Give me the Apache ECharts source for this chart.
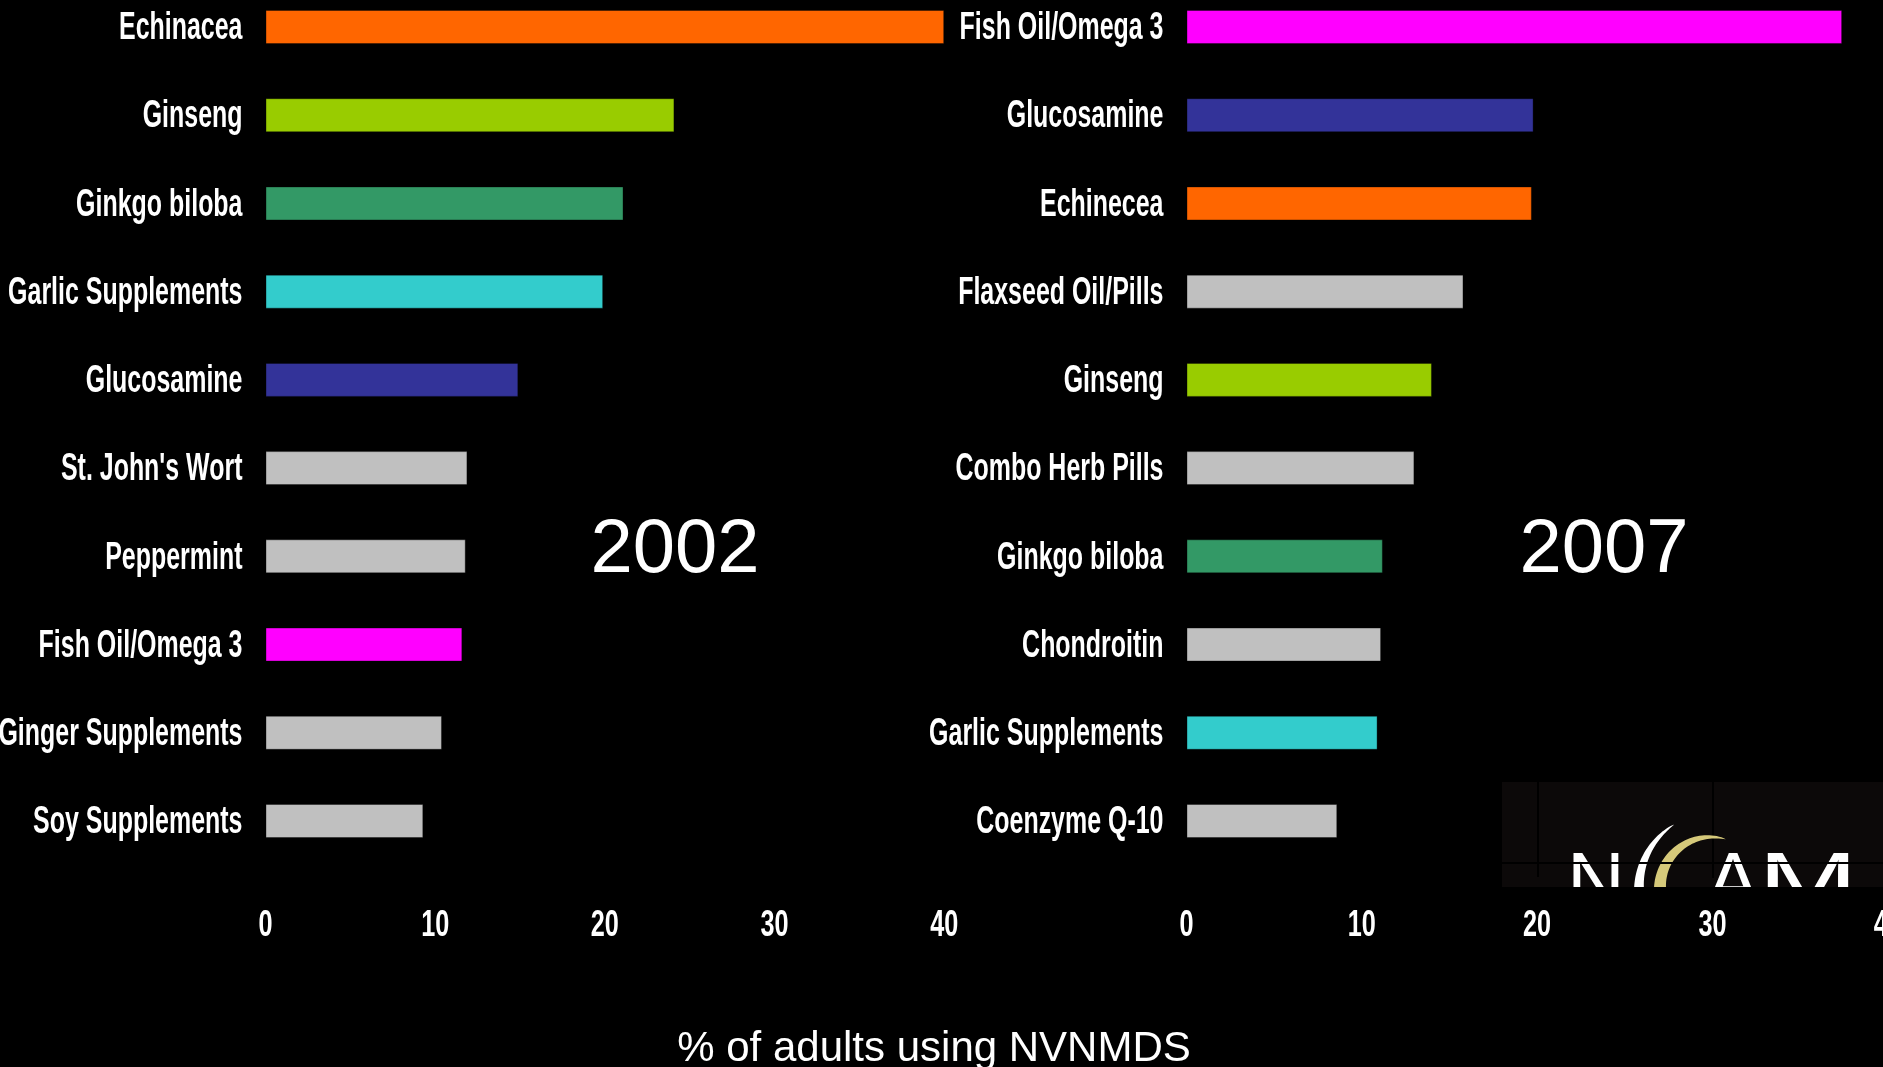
<!DOCTYPE html>
<html>
<head>
<meta charset="utf-8">
<title>NVNMDS use, 2002 vs 2007</title>
<script src="https://cdn.jsdelivr.net/npm/echarts@6/dist/echarts.min.js"></script>
<style>
  html, body { margin: 0; padding: 0; background: #000; }
  #chart { width: 1883px; height: 1067px; }
</style>
</head>
<body>
<div id="chart"></div>
<script>
// Top ten natural products used by adults (% of adults using NVNMDS)
const cats2002 = ['Echinacea', 'Ginseng', 'Ginkgo biloba', 'Garlic Supplements', 'Glucosamine',
                  "St. John's Wort", 'Peppermint', 'Fish Oil/Omega 3', 'Ginger Supplements', 'Soy Supplements'];
const vals2002 = [40.0, 24.1, 21.1, 19.9, 14.9, 11.9, 11.8, 11.6, 10.4, 9.3];

const cats2007 = ['Fish Oil/Omega 3', 'Glucosamine', 'Echinecea', 'Flaxseed Oil/Pills', 'Ginseng',
                  'Combo Herb Pills', 'Ginkgo biloba', 'Chondroitin', 'Garlic Supplements', 'Coenzyme Q-10'];
const vals2007 = [37.4, 19.8, 19.7, 15.8, 14.0, 13.0, 11.2, 11.1, 10.9, 8.6];

const xTicks = [0, 10, 20, 30, 40];
const panelYears = ['2002', '2007'];
const axisTitle = '% of adults using NVNMDS';

// Products that appear in both years share a colour; the rest are grey
const productColors = {
  'Echinacea': '#FF6600', 'Echinecea': '#FF6600',
  'Ginseng': '#99CC00',
  'Ginkgo biloba': '#339966',
  'Garlic Supplements': '#33CCCC',
  'Glucosamine': '#333399',
  'Fish Oil/Omega 3': '#FF00FF'
};
const otherColor = '#C0C0C0';
const colorOf = name => productColors[name] || otherColor;

const LABEL_FONT = 'bold 39px "Liberation Sans", Arial, sans-serif';
const TICK_FONT = 'bold 36px "Liberation Sans", Arial, sans-serif';
const CONDENSE = 0.64;

const chart = echarts.init(document.getElementById('chart'), null, { renderer: 'canvas' });

const panels = [
  { cats: cats2002, vals: vals2002, left: 265.5, width: 678.7 },
  { cats: cats2007, vals: vals2007, left: 1186.5, width: 701.2 }
];

const hiddenAxis = {
  axisLabel: { show: false }, axisLine: { show: false },
  axisTick: { show: false }, splitLine: { show: false }
};

chart.setOption({
  backgroundColor: '#000',
  animation: false,
  // first and last categories sit on the grid edges (boundaryGap: false)
  grid: panels.map(p => ({
    left: p.left, width: p.width, top: 27, height: 794,
    containLabel: false, outerBoundsMode: 'none'
  })),
  xAxis: panels.map((p, i) => Object.assign({
    type: 'value', gridIndex: i, min: 0, max: 40, interval: 10
  }, hiddenAxis)),
  yAxis: panels.map((p, i) => Object.assign({
    type: 'category', gridIndex: i, data: p.cats, inverse: true, boundaryGap: false
  }, hiddenAxis)),
  series: panels.map((p, i) => ({
    type: 'bar',
    xAxisIndex: i,
    yAxisIndex: i,
    barWidth: 34,
    itemStyle: { borderColor: 'rgba(0,0,0,0.35)', borderWidth: 1 },
    data: p.vals.map((v, k) => ({ value: v, itemStyle: { color: colorOf(p.cats[k]) } }))
  }))
});

// Labels are drawn as condensed bold text anchored to the axes' own pixel positions
const graphics = [];

panels.forEach((p, i) => {
  const x0 = chart.convertToPixel({ xAxisIndex: i }, 0);
  p.cats.forEach(name => {
    const y = chart.convertToPixel({ yAxisIndex: i }, name);
    graphics.push({
      type: 'text', x: x0 - 23, y: y + 1.5, scaleX: CONDENSE, z: 10,
      style: { text: name, font: LABEL_FONT, fill: '#fff', align: 'right', verticalAlign: 'middle' }
    });
  });
  xTicks.forEach(t => {
    const x = chart.convertToPixel({ xAxisIndex: i }, t);
    graphics.push({
      type: 'text', x: x, y: 926, scaleX: 0.7, z: 20,
      style: { text: String(t), font: TICK_FONT, fill: '#fff', align: 'center', verticalAlign: 'middle' }
    });
  });
});

// Year captions
[[675, panelYears[0]], [1604, panelYears[1]]].forEach(([x, txt]) => {
  graphics.push({
    type: 'text', x: x, y: 551, z: 10,
    style: { text: txt, font: '76px "Liberation Sans", Arial, sans-serif', fill: '#fff',
             align: 'center', verticalAlign: 'middle' }
  });
});

// Shared x-axis title
graphics.push({
  type: 'text', x: 934, y: 1049, z: 10,
  style: { text: axisTitle, font: '42px "Liberation Sans", Arial, sans-serif', fill: '#fff',
           align: 'center', verticalAlign: 'middle' }
});

// Tapered crescent outline for the logo swooshes
function crescent(cx, cy, r, a0, a1, wMax) {
  const n = 40, outer = [], inner = [];
  for (let k = 0; k <= n; k++) {
    const t = k / n;
    const a = (a0 + (a1 - a0) * t) * Math.PI / 180;
    const w = wMax * Math.pow(1 - t, 0.7) / 2;
    outer.push([cx + (r + w) * Math.cos(a), cy + (r + w) * Math.sin(a)]);
    inner.push([cx + (r - w) * Math.cos(a), cy + (r - w) * Math.sin(a)]);
  }
  return outer.concat(inner.reverse());
}

// NCCAM logo block in the lower right corner
const LOGO_FONT = '80px "Liberation Sans", Arial, sans-serif';
graphics.push(
  { type: 'rect', shape: { x: 1502, y: 782, width: 381, height: 105 }, style: { fill: '#0c0909' }, z: 1 },
  { type: 'line', shape: { x1: 1538, y1: 782, x2: 1538, y2: 877 }, style: { stroke: '#000', lineWidth: 2 }, z: 2 },
  { type: 'line', shape: { x1: 1713, y1: 782, x2: 1713, y2: 878 }, style: { stroke: '#000', lineWidth: 2 }, z: 2 },
  { type: 'polygon', shape: { points: crescent(1714, 888, 75, 178, 238, 10) }, style: { fill: '#ffffff' }, z: 3 },
  { type: 'polygon', shape: { points: crescent(1711, 888, 51, 180, 287, 12) }, style: { fill: '#d6c97a' }, z: 3 },
  { type: 'text', x: 1596, y: 886, z: 3,
    style: { text: 'N', font: LOGO_FONT, fill: '#fff', align: 'center', verticalAlign: 'middle' } },
  { type: 'text', x: 1733, y: 886, z: 3,
    style: { text: 'A', font: LOGO_FONT, fill: '#fff', align: 'center', verticalAlign: 'middle' } },
  { type: 'text', x: 1808, y: 886, scaleX: 1.5, z: 3,
    style: { text: 'M', font: LOGO_FONT, fill: '#fff', align: 'center', verticalAlign: 'middle' } },
  { type: 'line', shape: { x1: 1502, y1: 863, x2: 1883, y2: 863 }, style: { stroke: '#000', lineWidth: 2 }, z: 4 },
  { type: 'rect', shape: { x: 1490, y: 887, width: 400, height: 22 }, style: { fill: '#000' }, z: 5 }
);

chart.setOption({ graphic: graphics });
</script>
</body>
</html>
